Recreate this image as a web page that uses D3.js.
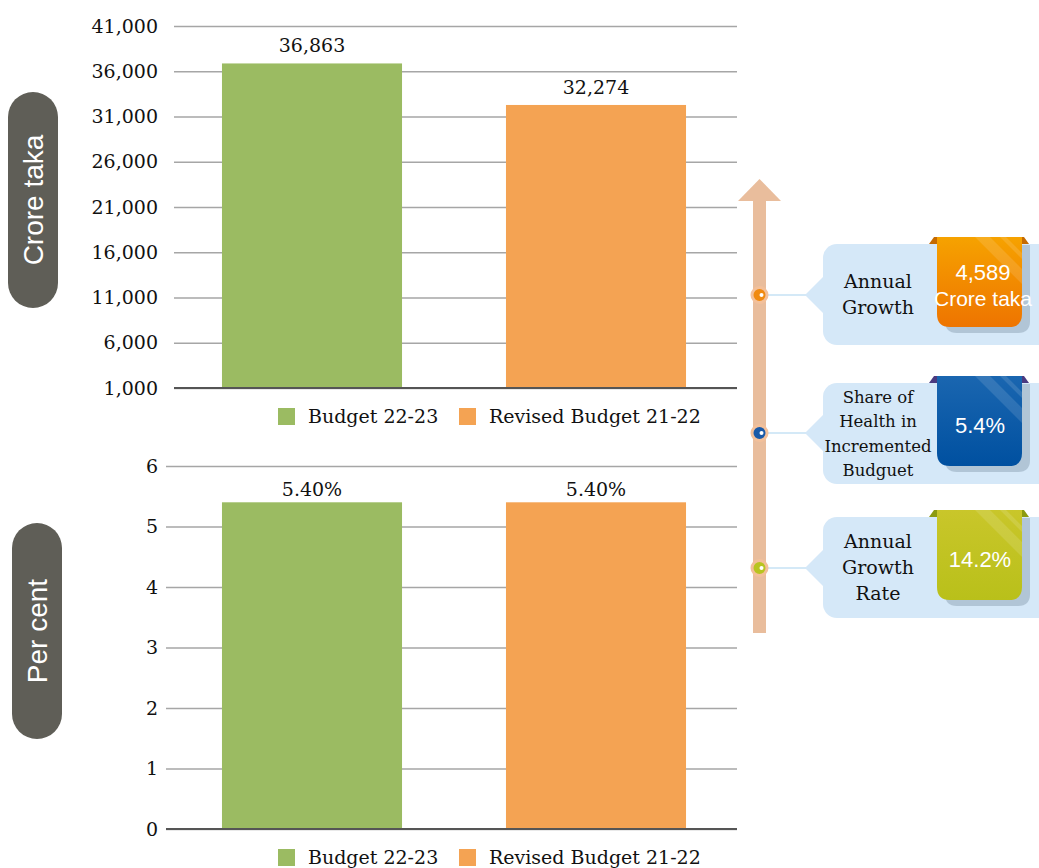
<!DOCTYPE html>
<html><head><meta charset="utf-8">
<script src="https://cdn.jsdelivr.net/npm/d3@7"></script>
<style>body{margin:0;background:#fff}svg{display:block}</style>
</head><body>
<script>
// ---- data ----
const categories = ["Budget 22-23", "Revised Budget 21-22"];
const croreValues = [36863, 32274];
const percentValues = [5.40, 5.40];
const croreTicks = [1000, 6000, 11000, 16000, 21000, 26000, 31000, 36000, 41000];
const percentTicks = [0, 1, 2, 3, 4, 5, 6];
const calloutLabels = [["Annual", "Growth"], ["Share of", "Health in", "Incremented", "Budguet"], ["Annual", "Growth", "Rate"]];
const calloutValues = [["4,589", "Crore taka"], ["5.4%"], ["14.2%"]];

const colors = ["#9bbb62", "#f4a353"];
const W = 1039, H = 868;
const svg = d3.select("body").append("svg").attr("width", W).attr("height", H);
const serif = "DejaVu Serif, serif";
const sans = "Liberation Sans, Arial, sans-serif";

const x = d3.scaleBand().domain(categories).range([170, 738]).paddingInner(0.366).paddingOuter(0.183);

function panel(values, ticks, y, gridX0, pad, fmt, labelFmt, labelOff, legendY) {
  const g = svg.append("g");
  const ax = d3.axisLeft(y).tickValues(ticks).tickSize(-(737 - gridX0)).tickPadding(pad).tickFormat(fmt);
  const a = g.append("g").attr("transform", `translate(${gridX0},0)`).call(ax);
  a.select(".domain").remove();
  a.selectAll("line").attr("stroke", "#a6a6a6").attr("stroke-width", 1.3);
  a.selectAll("text").attr("font-family", serif).attr("font-size", 19).attr("fill", "#111");
  g.selectAll("rect.bar").data(values).join("rect").attr("class", "bar")
    .attr("x", (d, i) => x(categories[i])).attr("width", x.bandwidth())
    .attr("y", d => y(d)).attr("height", d => y(ticks[0]) - y(d))
    .attr("fill", (d, i) => colors[i]);
  g.append("line").attr("x1", gridX0).attr("x2", 737).attr("y1", y(ticks[0])).attr("y2", y(ticks[0]))
    .attr("stroke", "#555").attr("stroke-width", 2);
  g.selectAll("text.val").data(values).join("text").attr("class", "val")
    .attr("x", (d, i) => x(categories[i]) + x.bandwidth() / 2).attr("y", d => y(d) - labelOff)
    .attr("text-anchor", "middle").attr("font-family", serif).attr("font-size", 19).attr("fill", "#111")
    .text(labelFmt);
  const lg = g.append("g").attr("transform", `translate(0,${legendY})`);
  const lx = [278, 459];
  categories.forEach((c, i) => {
    lg.append("rect").attr("x", lx[i]).attr("y", -8).attr("width", 17).attr("height", 17).attr("fill", colors[i]);
    lg.append("text").attr("x", lx[i] + 30).attr("y", 7).attr("font-family", serif).attr("font-size", 19)
      .attr("fill", "#111").text(c);
  });
}

const yTop = d3.scaleLinear().domain([1000, 41000]).range([388, 26]);
panel(croreValues, croreTicks, yTop, 174, 16, d3.format(","), d3.format(","), 11, 416);
const yBot = d3.scaleLinear().domain([0, 6]).range([829, 466]);
panel(percentValues, percentTicks, yBot, 166, 8, d3.format("d"), d => d3.format(".2f")(d) + "%", 6, 857);

function pill(cx, y0, y1, text) {
  svg.append("rect").attr("x", cx - 25).attr("y", y0).attr("width", 50).attr("height", y1 - y0)
    .attr("rx", 25).attr("fill", "#5f5e57");
  svg.append("text").attr("transform", `translate(${cx + 10},${(y0 + y1) / 2}) rotate(-90)`)
    .attr("text-anchor", "middle").attr("font-family", sans).attr("font-size", 28).attr("fill", "#fff").text(text);
}
pill(33, 92, 308, "Crore taka");
pill(37, 523, 739, "Per cent");

// arrow
svg.append("rect").attr("x", 753).attr("y", 199).attr("width", 13).attr("height", 434).attr("fill", "#e9bd9c");
svg.append("path").attr("d", "M738,201 L759.5,179 L781,201 Z").attr("fill", "#e9bd9c");

// callouts
const defs = svg.append("defs");
const grads = [["#f6a200", "#ee7400"], ["#1a66b0", "#0050a0"], ["#c9c62a", "#b9c01a"]];
const dark = ["#c56a00", "#4a3a80", "#8c9a10"];
const dotCol = ["#f08a10", "#1a5aa8", "#b8c420"];
grads.forEach((gc, i) => {
  const lgd = defs.append("linearGradient").attr("id", "g" + i).attr("x1", 0).attr("y1", 0).attr("x2", 0).attr("y2", 1);
  lgd.append("stop").attr("offset", 0).attr("stop-color", gc[0]);
  lgd.append("stop").attr("offset", 1).attr("stop-color", gc[1]);
});
const cy = [295, 433, 568];
const boxTop = [244, 383, 517];
const labelSize = [19, 16.5, 19];
const labelLH = [26, 24.5, 26];
calloutLabels.forEach((lines, i) => {
  const g = svg.append("g");
  const c = cy[i], bt = boxTop[i];
  g.append("line").attr("x1", 759).attr("x2", 810).attr("y1", c).attr("y2", c).attr("stroke", "#a9d3f0").attr("stroke-width", 1.2);
  g.append("rect").attr("x", 823).attr("y", bt).attr("width", 240).attr("height", 101).attr("rx", 14).attr("fill", "#d5e8f8");
  g.append("path").attr("d", `M824,${c - 19} L805,${c} L824,${c + 19} Z`).attr("fill", "#d5e8f8");
  g.append("circle").attr("cx", 759.5).attr("cy", c).attr("r", 9).attr("fill", "#f3c09a");
  g.append("circle").attr("cx", 759.5).attr("cy", c).attr("r", 6).attr("fill", dotCol[i]);
  g.append("circle").attr("cx", 761.5).attr("cy", c).attr("r", 2).attr("fill", "#fff");
  const n = lines.length;
  const midY = bt + 50.5;
  lines.forEach((t, k) => {
    g.append("text").attr("x", 878).attr("y", midY + (k - (n - 1) / 2) * labelLH[i] + labelSize[i] * 0.35)
      .attr("text-anchor", "middle").attr("font-family", serif).attr("font-size", labelSize[i]).attr("fill", "#111").text(t);
  });
  const rt = bt - 7, rb = bt + 83;
  g.append("path").attr("d", `M929,${bt} L934,${rt} L1024,${rt} L1029,${bt} Z`).attr("fill", dark[i]);
  g.append("path").attr("d", `M945,${rt + 8} H1030 V${rb + 6 - 12} Q1030,${rb + 6} 1018,${rb + 6} H957 Q945,${rb + 6} 945,${rb - 6} Z`)
    .attr("fill", "#a8bccd").attr("opacity", 0.8);
  g.append("path").attr("d", `M937,${rt} H1022 V${rb - 13} Q1022,${rb} 1009,${rb} H950 Q937,${rb} 937,${rb - 13} Z`)
    .attr("fill", `url(#g${i})`);
  g.append("path").attr("d", `M975,${rt} L990,${rt} L1022,${rt + 32} L1022,${rt + 47} Z`).attr("fill", "#fff").attr("opacity", 0.12);
  g.append("path").attr("d", `M1000,${rt} L1006,${rt} L1022,${rt + 16} L1022,${rt + 22} Z`).attr("fill", "#fff").attr("opacity", 0.12);
  const vals = calloutValues[i];
  const m = vals.length;
  const vMid = i === 0 ? rt + 48 : rt + 49;
  vals.forEach((t, k) => {
    g.append("text").attr("x", i === 0 ? 983 : 980).attr("y", vMid + (k - (m - 1) / 2) * 26 + 8)
      .attr("text-anchor", "middle").attr("font-family", sans).attr("font-size", k === 1 ? 21 : 22).attr("fill", "#fff").text(t);
  });
});
</script>
</body></html>
